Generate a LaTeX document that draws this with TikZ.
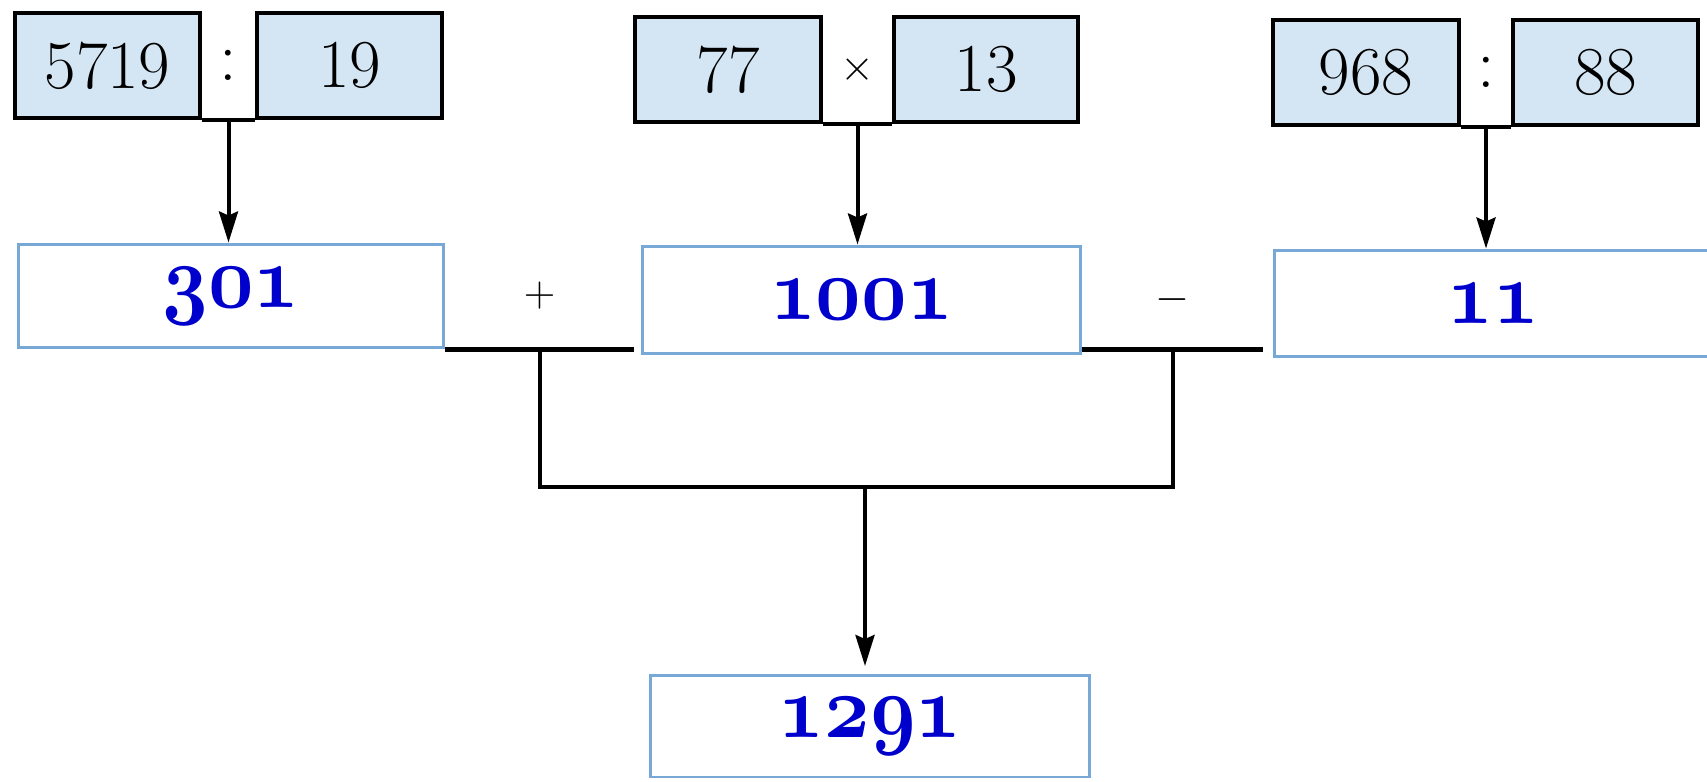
\documentclass[tikz,border=0pt]{standalone}
\usepackage{graphicx}
\usetikzlibrary{arrows.meta,calc}
\definecolor{topfill}{RGB}{212,230,243}
\definecolor{midline}{RGB}{120,168,214}
\definecolor{ansblue}{RGB}{0,0,205}
\newcommand{\bnum}[1]{\scalebox{2.18}[2.45]{\fontencoding{OML}\fontfamily{cmm}\fontseries{b}\fontshape{it}\fontsize{20.74}{24}\selectfont #1}}
\begin{document}
\begin{tikzpicture}[x=0.02cm,y=-0.02cm,
  topbox/.style={draw=black,line width=0.09cm,fill=topfill,minimum height=2.1cm,inner sep=0pt,font=\fontsize{39}{42}\selectfont},
  midbox/.style={draw=midline,line width=0.06cm,fill=white,inner sep=0pt,text=ansblue},
  conn/.style={line width=0.08cm,black},
  hconn/.style={line width=0.1cm,black},
  arr/.style={conn,-{Stealth[length=0.62cm,width=0.38cm,inset=0.08cm]}},
  opsym/.style={inner sep=0pt,font=\fontsize{24}{26}\selectfont}]
\useasboundingbox (0,0) rectangle (1707,781);
\fill[white] (0,0) rectangle (1707,781);
% top row
\node[topbox,minimum width=3.7cm] (a1) at (107.5,65.5) {5719};
\node[topbox,minimum width=3.7cm] (a2) at (349.5,65.5) {19};
\node[topbox,minimum width=3.72cm] (b1) at (728,69.5) {77};
\node[topbox,minimum width=3.68cm] (b2) at (986,69.5) {13};
\node[topbox,minimum width=3.72cm] (c1) at (1366,72.5) {968};
\node[topbox,minimum width=3.7cm] (c2) at (1605.5,72.5) {88};
\node[inner sep=0pt,font=\fontsize{40}{42}\selectfont] (oa) at ($(a1.east)!0.5!(a2.west)$) {:};
\node[inner sep=0pt,font=\fontsize{28}{30}\selectfont] (ob) at ($(b1.east)!0.5!(b2.west)$) {$\times$};
\node[inner sep=0pt,font=\fontsize{40}{42}\selectfont] (oc) at ($(c1.east)!0.5!(c2.west)$) {:};
% middle row
\node[midbox,minimum width=8.52cm,minimum height=2.08cm] (m1) at (231,296) {\bnum{301}};
\node[midbox,minimum width=8.78cm,minimum height=2.16cm] (m2) at (861.5,300) {\bnum{1001}};
\node[midbox,minimum width=8.76cm,minimum height=2.14cm] (m3) at (1493,303.5) {\bnum{11}};
% result
\node[midbox,minimum width=8.8cm,minimum height=2.04cm] (res) at (870,726) {\bnum{1291}};
% top connectors
\draw[conn] (a1.south east) -- (a2.south west);
\draw[conn] (b1.south east) -- (b2.south west);
\draw[conn] (c1.south east) -- (c2.south west);
\coordinate (sa) at ($(a1.south east)!0.5!(a2.south west)$);
\coordinate (sb) at ($(b1.south east)!0.5!(b2.south west)$);
\coordinate (sc) at ($(c1.south east)!0.5!(c2.south west)$);
\draw[arr] (sa) -- (sa |- m1.north);
\draw[arr] (sb) -- (sb |- m2.north);
\draw[arr] (sc) -- (sc |- m3.north);
% bottom connectors
\coordinate (l1e) at ($(m1.south east -| m2.west)+(-7,0)$);
\coordinate (l2s) at (m2.east |- m1.south east);
\coordinate (l2e) at ($(l2s -| m3.west)+(-10,0)$);
\draw[hconn] (m1.south east) -- (l1e);
\draw[hconn] (l2s) -- (l2e);
\coordinate (j1) at ($(m1.south east)!0.5!(l1e)$);
\coordinate (j2) at ($(l2s)!0.5!(l2e)$);
\coordinate (jl) at (0,487);
\draw[conn] (j1) -- (j1 |- jl) -- (j2 |- jl) -- (j2);
\coordinate (jm) at ($(res.north |- jl)+(-5,0)$);
\draw[arr,shorten >=0.15cm] (jm) -- (jm |- res.north);
% operators between middle boxes
\node[opsym] (plus) at (j1 |- m1.center) {$+$};
\node[opsym] (minus) at (j2 |- m2.center) {$-$};
\end{tikzpicture}
\end{document}
